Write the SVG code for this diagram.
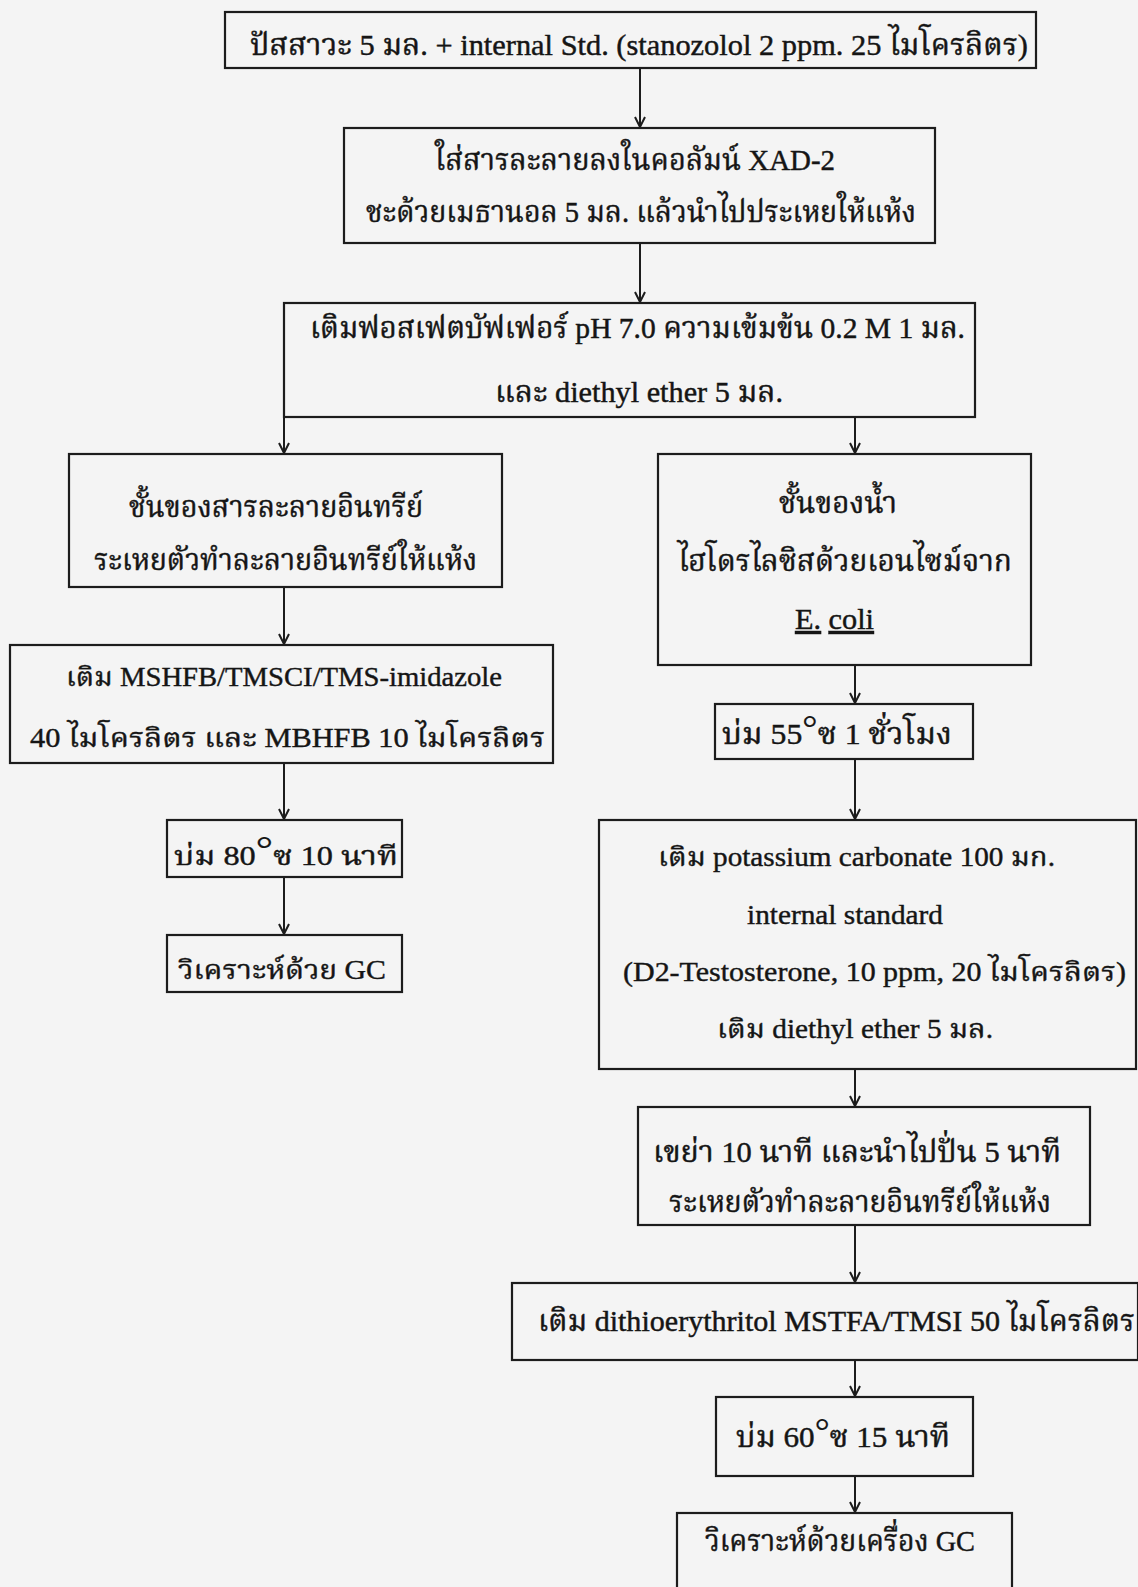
<svg xmlns="http://www.w3.org/2000/svg" width="1138" height="1587" viewBox="0 0 1138 1587">
<style>
.bx{fill:none;stroke:#1c1c1c;stroke-width:2.2}
.t{font-family:"Liberation Serif","Noto Serif Thai","Noto Sans Thai",serif;font-size:30px;fill:#151515;stroke:#151515;stroke-width:0.45}
.w{font-family:"Liberation Serif","Noto Serif Thai","Noto Sans Thai",serif;font-size:27px;fill:#151515;stroke:#151515;stroke-width:0.4}
.c{stroke:#1c1c1c;stroke-width:2;fill:none;marker-end:url(#ah)}
.deg{font-size:36px;stroke-width:0.2}
</style>
<defs>
<marker id="ah" viewBox="0 0 12 12" refX="11" refY="6" markerWidth="12" markerHeight="12" markerUnits="userSpaceOnUse" orient="auto">
<path d="M1,1 L11,6 L1,11" fill="none" stroke="#1c1c1c" stroke-width="2"/>
</marker>
</defs>
<rect width="1138" height="1587" fill="#f4f4f4"/>
<g id="connectors">
<line class="c" x1="640" y1="68" x2="640" y2="127"/>
<line class="c" x1="640" y1="243" x2="640" y2="302"/>
<line class="c" x1="284" y1="417" x2="284" y2="453"/>
<line class="c" x1="855" y1="417" x2="855" y2="453"/>
<line class="c" x1="284" y1="587" x2="284" y2="644"/>
<line class="c" x1="284" y1="763" x2="284" y2="819"/>
<line class="c" x1="284" y1="877" x2="284" y2="934"/>
<line class="c" x1="855" y1="665" x2="855" y2="703"/>
<line class="c" x1="855" y1="759" x2="855" y2="819"/>
<line class="c" x1="855" y1="1069" x2="855" y2="1106"/>
<line class="c" x1="855" y1="1225" x2="855" y2="1282"/>
<line class="c" x1="855" y1="1360" x2="855" y2="1396"/>
<line class="c" x1="855" y1="1476" x2="855" y2="1512"/>
</g>
<g id="n1">
<rect class="bx" x="225" y="12" width="811" height="56"/>
<text class="t" x="250" y="55" textLength="778" lengthAdjust="spacingAndGlyphs">ปัสสาวะ 5 มล. + internal Std. (stanozolol 2 ppm. 25 ไมโครลิตร)</text>
</g>
<g id="n2">
<rect class="bx" x="344" y="128" width="591" height="115"/>
<text class="t" x="435" y="170" textLength="400" lengthAdjust="spacingAndGlyphs">ใส่สารละลายลงในคอลัมน์ XAD-2</text>
<text class="t" x="366" y="222" textLength="550" lengthAdjust="spacingAndGlyphs">ชะด้วยเมธานอล 5 มล. แล้วนำไปประเหยให้แห้ง</text>
</g>
<g id="n3">
<rect class="bx" x="284" y="303" width="691" height="114"/>
<text class="t" x="310" y="338" textLength="655" lengthAdjust="spacingAndGlyphs">เติมฟอสเฟตบัฟเฟอร์ pH 7.0 ความเข้มข้น 0.2 M 1 มล.</text>
<text class="t" x="495" y="402" textLength="288" lengthAdjust="spacingAndGlyphs">และ diethyl ether 5 มล.</text>
</g>
<g id="n4">
<rect class="bx" x="69" y="454" width="433" height="133"/>
<text class="t" x="129" y="517" textLength="294" lengthAdjust="spacingAndGlyphs">ชั้นของสารละลายอินทรีย์</text>
<text class="t" x="94" y="570" textLength="383" lengthAdjust="spacingAndGlyphs">ระเหยตัวทำละลายอินทรีย์ให้แห้ง</text>
</g>
<g id="n5">
<rect class="bx" x="10" y="645" width="543" height="118"/>
<text class="w" x="66" y="686" textLength="436" lengthAdjust="spacingAndGlyphs">เติม MSHFB/TMSCI/TMS-imidazole</text>
<text class="w" x="30" y="747" textLength="515" lengthAdjust="spacingAndGlyphs">40 ไมโครลิตร และ MBHFB 10 ไมโครลิตร</text>
</g>
<g id="n6">
<rect class="bx" x="167" y="820" width="235" height="57"/>
<text class="w" x="174" y="865" textLength="224" lengthAdjust="spacingAndGlyphs">บ่ม 80<tspan class="deg" dy="-4">°</tspan><tspan dy="4">ซ  10 นาที</tspan></text>
</g>
<g id="n7">
<rect class="bx" x="167" y="935" width="235" height="57"/>
<text class="w" x="178" y="979" textLength="208" lengthAdjust="spacingAndGlyphs">วิเคราะห์ด้วย GC</text>
</g>
<g id="n8">
<rect class="bx" x="658" y="454" width="373" height="211"/>
<text class="t" x="779" y="513" textLength="118" lengthAdjust="spacingAndGlyphs">ชั้นของน้ำ</text>
<text class="t" x="678" y="571" textLength="334" lengthAdjust="spacingAndGlyphs">ไฮโดรไลซิสด้วยเอนไซม์จาก</text>
<text class="t" x="795" y="629" textLength="79" lengthAdjust="spacingAndGlyphs"><tspan text-decoration="underline">E.</tspan> <tspan text-decoration="underline">coli</tspan></text>
</g>
<g id="n9">
<rect class="bx" x="715" y="704" width="258" height="55"/>
<text class="t" x="722" y="744" textLength="230" lengthAdjust="spacingAndGlyphs">บ่ม 55<tspan class="deg" dy="-4">°</tspan><tspan dy="4">ซ 1 ชั่วโมง</tspan></text>
</g>
<g id="n10">
<rect class="bx" x="599" y="820" width="537" height="249"/>
<text class="w" x="658" y="866" textLength="397" lengthAdjust="spacingAndGlyphs">เติม potassium carbonate 100 มก.</text>
<text class="w" x="747" y="924" textLength="196" lengthAdjust="spacingAndGlyphs">internal standard</text>
<text class="w" x="623" y="981" textLength="503" lengthAdjust="spacingAndGlyphs">(D2-Testosterone, 10 ppm, 20 ไมโครลิตร)</text>
<text class="w" x="717" y="1038" textLength="276" lengthAdjust="spacingAndGlyphs">เติม diethyl ether 5 มล.</text>
</g>
<g id="n11">
<rect class="bx" x="638" y="1107" width="452" height="118"/>
<text class="t" x="653" y="1162" textLength="408" lengthAdjust="spacingAndGlyphs">เขย่า 10 นาที และนำไปปั่น 5 นาที</text>
<text class="t" x="669" y="1212" textLength="382" lengthAdjust="spacingAndGlyphs">ระเหยตัวทำละลายอินทรีย์ให้แห้ง</text>
</g>
<g id="n12">
<rect class="bx" x="512" y="1283" width="626" height="77"/>
<text class="t" x="538" y="1331" textLength="597" lengthAdjust="spacingAndGlyphs">เติม dithioerythritol  MSTFA/TMSI 50 ไมโครลิตร</text>
</g>
<g id="n13">
<rect class="bx" x="716" y="1397" width="257" height="79"/>
<text class="t" x="736" y="1447" textLength="214" lengthAdjust="spacingAndGlyphs">บ่ม 60<tspan class="deg" dy="-4">°</tspan><tspan dy="4">ซ 15 นาที</tspan></text>
</g>
<g id="n14">
<rect class="bx" x="677" y="1513" width="335" height="90"/>
<text class="t" x="705" y="1551" textLength="270" lengthAdjust="spacingAndGlyphs">วิเคราะห์ด้วยเครื่อง GC</text>
</g>
</svg>
